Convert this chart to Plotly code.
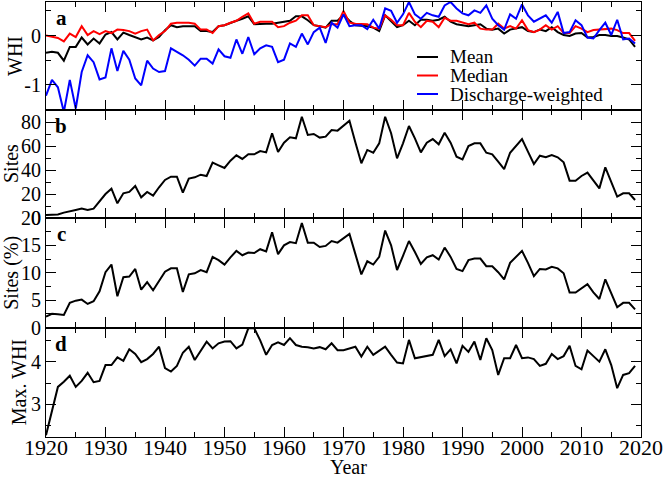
import plotly.graph_objects as go
from plotly.subplots import make_subplots

years = list(range(1920, 2020))

mean_whi = [
    -0.35, -0.33, -0.35, -0.51, -0.23, -0.23, -0.04, -0.18, -0.06, -0.16,
    0.02, 0.07, -0.08, 0.06, 0.01, -0.03, -0.08, -0.04, -0.10, -0.03,
    0.11, 0.21, 0.17, 0.19, 0.19, 0.19, 0.09, 0.09, 0.07, 0.19,
    0.21, 0.26, 0.30, 0.34, 0.39, 0.23, 0.24, 0.24, 0.24, 0.26,
    0.28, 0.30, 0.39, 0.39, 0.31, 0.21, 0.19, 0.16, 0.30, 0.30,
    0.42, 0.30, 0.21, 0.20, 0.19, 0.16, 0.09, 0.41, 0.30, 0.17,
    0.21, 0.30, 0.21, 0.32, 0.32, 0.30, 0.32, 0.38, 0.28, 0.23,
    0.21, 0.19, 0.21, 0.23, 0.14, 0.12, 0.14, 0.04, 0.12, 0.14,
    0.17, 0.09, 0.07, 0.12, 0.09, 0.17, 0.07, 0.01, -0.01, 0.04,
    0.05, -0.04, -0.03, 0.01, 0.01, -0.01, -0.01, -0.04, -0.08, -0.23,
]

median_whi = [
    0.00, -0.03, -0.05, -0.12, 0.04, -0.03, 0.19, 0.01, 0.09, 0.03,
    0.09, 0.05, 0.12, 0.11, 0.09, 0.04, 0.09, 0.12, -0.10, 0.01,
    0.09, 0.24, 0.26, 0.26, 0.26, 0.24, 0.12, 0.12, 0.05, 0.19,
    0.21, 0.26, 0.30, 0.38, 0.45, 0.24, 0.28, 0.28, 0.28, 0.17,
    0.19, 0.26, 0.30, 0.41, 0.41, 0.21, 0.19, 0.17, 0.23, 0.23,
    0.50, 0.26, 0.24, 0.24, 0.23, 0.16, 0.14, 0.41, 0.32, 0.21,
    0.21, 0.46, 0.28, 0.17, 0.30, 0.28, 0.17, 0.36, 0.30, 0.30,
    0.26, 0.23, 0.26, 0.14, 0.12, 0.12, 0.24, 0.14, 0.19, 0.14,
    0.31, 0.11, 0.07, 0.12, 0.21, 0.12, 0.19, 0.05, 0.05, 0.19,
    0.14, 0.07, 0.11, 0.12, 0.14, 0.14, 0.11, 0.05, 0.05, -0.11,
]

discharge_whi = [
    -1.22, -0.90, -1.05, -1.55, -0.90, -1.48, -0.74, -0.40, -0.54, -0.89,
    -0.85, -0.26, -0.72, -0.31, -0.49, -0.87, -1.01, -0.51, -0.67, -0.74,
    -0.72, -0.26, -0.33, -0.40, -0.49, -0.61, -0.47, -0.47, -0.57, -0.28,
    -0.42, -0.45, -0.08, -0.37, -0.03, -0.38, -0.26, -0.20, -0.23, -0.54,
    -0.49, -0.16, -0.23, 0.04, -0.18, 0.07, 0.16, -0.15, 0.26, 0.16,
    0.43, 0.19, 0.21, 0.21, 0.13, 0.32, 0.14, 0.55, 0.50, 0.26,
    0.43, 0.68, 0.43, 0.34, 0.46, 0.41, 0.38, 0.61, 0.68, 0.55,
    0.45, 0.41, 0.51, 0.46, 0.61, 0.34, 0.21, 0.12, 0.43, 0.34,
    0.63, 0.41, 0.28, 0.34, 0.41, 0.26, 0.48, 0.05, 0.07, 0.31,
    0.21, -0.04, -0.06, 0.11, 0.26, 0.01, 0.32, -0.08, -0.06, -0.16,
]

sites = [
    2.5, 2.5, 3, 4.5, 5.3, 6.7, 7.8, 6.7, 7.8, 14,
    20, 24.4, 12.2, 20.6, 21.7, 26.7, 17.2, 21.7, 18.6, 25.6,
    31.7, 34.4, 34.4, 21.1, 32.8, 33.9, 36.1, 35, 46.1, 43.9,
    41.7, 47.8, 52.2, 49.2, 53.1, 53.1, 55.8, 54.7, 70.6, 55,
    62.8, 67.2, 66.4, 84.4, 69.2, 70, 67, 67.8, 73.3, 72.8,
    76.7, 81.1, 63, 45.6, 56.7, 54.4, 62.2, 84.4, 70.6, 49.7,
    62.2, 76.7, 66.4, 54.7, 62.8, 65.8, 61.4, 71.1, 62.8, 51.1,
    48.9, 60, 62.2, 62.2, 54.4, 53.1, 46.9, 40.8, 54.4, 60.3,
    65.8, 55.3, 45, 51.9, 50.6, 52.5, 50.6, 46.4, 31.1, 31.1,
    35, 37.8, 30.8, 24.7, 42.2, 30.3, 17.8, 20.6, 20.6, 15,
]

sites_pct = [
    2.0, 2.5, 2.4, 2.3, 4.5, 4.9, 5.1, 4.3, 4.8, 6.6,
    10.1, 11.5, 5.7, 9.2, 9.3, 10.7, 6.9, 8.3, 6.8, 8.6,
    10.2, 10.8, 10.8, 6.5, 9.7, 9.9, 10.5, 10.1, 12.9, 12.3,
    11.5, 12.8, 14.0, 13.2, 13.7, 13.6, 14.3, 13.9, 17.4, 13.4,
    15.0, 15.6, 15.4, 19.1, 15.5, 15.5, 14.7, 14.9, 15.8, 15.5,
    16.3, 17.1, 13.4, 9.7, 12.1, 11.5, 12.9, 17.7, 15.0, 10.5,
    13.1, 15.8, 13.8, 11.6, 12.8, 13.2, 12.4, 14.6, 12.9, 10.7,
    10.3, 12.3, 12.6, 12.6, 11.2, 11.2, 10.1, 8.8, 11.8, 12.9,
    14.0, 11.8, 9.4, 10.7, 10.6, 11.1, 10.8, 9.9, 6.4, 6.4,
    7.2, 7.9, 6.4, 5.2, 8.8, 6.3, 3.7, 4.5, 4.5, 3.3,
]

max_whi = [
    2.28, 2.85, 3.41, 3.53, 3.67, 3.41, 3.55, 3.74, 3.52, 3.55,
    3.92, 3.92, 4.10, 4.02, 4.29, 4.18, 3.99, 4.06, 4.18, 4.35,
    3.85, 3.77, 3.90, 4.21, 4.35, 4.04, 4.27, 4.47, 4.31, 4.43,
    4.47, 4.48, 4.31, 4.40, 4.78, 4.78, 4.50, 4.16, 4.39, 4.45,
    4.39, 4.55, 4.39, 4.35, 4.34, 4.31, 4.34, 4.29, 4.43, 4.27,
    4.27, 4.31, 4.35, 4.12, 4.35, 4.16, 4.26, 4.35, 4.16, 3.98,
    3.96, 4.51, 4.08, 4.11, 4.14, 4.16, 4.51, 4.13, 4.29, 3.96,
    4.37, 4.23, 4.47, 4.04, 4.55, 4.27, 3.69, 4.08, 4.08, 4.39,
    4.08, 4.10, 4.06, 3.90, 3.95, 4.18, 4.06, 4.13, 4.37, 3.90,
    3.82, 4.26, 4.13, 4.00, 4.29, 3.92, 3.38, 3.69, 3.73, 3.90,
]

series_names = ["Mean", "Median", "Discharge-weighted"]
series_colors = ["#000000", "#ff0000", "#0000ff"]
panel_letters = ["a", "b", "c", "d"]
y_titles = ["WHI", "Sites", "Sites (%)", "Max. WHI"]

FONT = "Liberation Serif, Times New Roman, serif"
W, H = 664, 479
L, R, T, B = 46, 23, 2, 42
PW, PH = W - L - R, H - T - B


def px_x(x):
    return (x - L) / PW


def px_y(y):
    return (H - B - y) / PH


fig = make_subplots(rows=4, cols=1, shared_xaxes=True, vertical_spacing=0)

for name, vals, col in zip(series_names, [mean_whi, median_whi, discharge_whi], series_colors):
    fig.add_trace(go.Scatter(x=years, y=vals, mode="lines", name=name,
                             line=dict(color=col, width=2), showlegend=False), row=1, col=1)
fig.add_trace(go.Scatter(x=years, y=sites, mode="lines", line=dict(color="black", width=2),
                         showlegend=False), row=2, col=1)
fig.add_trace(go.Scatter(x=years, y=sites_pct, mode="lines", line=dict(color="black", width=2),
                         showlegend=False), row=3, col=1)
fig.add_trace(go.Scatter(x=years, y=max_whi, mode="lines", line=dict(color="black", width=2),
                         showlegend=False), row=4, col=1)

bounds = [2, 110, 218, 327.5, 437]
domains = [[px_y(bounds[i + 1]), px_y(bounds[i])] for i in range(4)]
domains[0][1] = 1.0
domains[3][0] = 0.0

axis_common = dict(showline=True, linecolor="black", linewidth=1.2, mirror="allticks",
                   ticks="inside", tickcolor="black", tickwidth=1.2, ticklen=10,
                   showgrid=False, zeroline=False, automargin=False,
                   tickfont=dict(family=FONT, size=20, color="black"))

for i in range(4):
    fig.update_xaxes(row=i + 1, col=1, range=[1920, 2020], tick0=1920, dtick=10,
                     minor=dict(dtick=5, tick0=1920, ticklen=5, ticks="inside",
                                tickcolor="black", tickwidth=1.2, showgrid=False),
                     showticklabels=(i == 3), **axis_common)
    fig.layout["yaxis" + ("" if i == 0 else str(i + 1))].domain = domains[i]

fig.update_xaxes(row=4, col=1, tickfont=dict(family=FONT, size=22, color="black"),
                 ticklabelstandoff=-10)

minor_y = dict(ticklen=5, ticks="inside", tickcolor="black", tickwidth=1.2, showgrid=False)
fig.update_yaxes(row=1, col=1, range=[-1.51, 0.68], tickmode="array", tickvals=[-1, 0],
                 ticktext=["-1", "0"], minor=dict(tickmode="array", tickvals=[-1.5, -0.5, 0.5], **minor_y),
                 **axis_common)
fig.update_yaxes(row=2, col=1, range=[0, 90], tick0=0, dtick=20,
                 minor=dict(dtick=10, tick0=0, **minor_y), **axis_common)
fig.update_yaxes(row=3, col=1, range=[0, 20], tick0=0, dtick=5,
                 minor=dict(dtick=2.5, tick0=0, **minor_y), **axis_common)
fig.update_yaxes(row=4, col=1, range=[2.237, 4.80], tick0=3, dtick=1,
                 minor=dict(dtick=0.5, tick0=3, **minor_y), **axis_common)

annotations = []
for i, letter in enumerate(panel_letters):
    annotations.append(dict(text="<b>%s</b>" % letter, xref="paper", yref="paper",
                            x=px_x(61), y=px_y(bounds[i] + 16), xanchor="center", yanchor="middle",
                            showarrow=False, font=dict(family=FONT, size=21, color="black")))
title_x = [15, 11, 12, 19]
for i, t in enumerate(y_titles):
    annotations.append(dict(text=t, xref="paper", yref="paper", textangle=-90,
                            x=px_x(title_x[i]), y=(domains[i][0] + domains[i][1]) / 2,
                            xanchor="center", yanchor="middle", showarrow=False,
                            font=dict(family=FONT, size=20, color="black")))
annotations.append(dict(text="Year", xref="paper", yref="paper", x=px_x(348), y=px_y(467),
                        xanchor="center", yanchor="middle", showarrow=False, borderpad=0,
                        font=dict(family=FONT, size=20, color="black")))

shapes = []
legend_rows = [57, 75.5, 94]
for name, col, yy in zip(series_names, series_colors, legend_rows):
    shapes.append(dict(type="line", xref="paper", yref="paper", x0=px_x(417), x1=px_x(438),
                       y0=px_y(yy), y1=px_y(yy), line=dict(color=col, width=2)))
    annotations.append(dict(text=name, xref="paper", yref="paper", x=px_x(448), y=px_y(yy),
                            xanchor="left", yanchor="middle", showarrow=False,
                            font=dict(family=FONT, size=19, color="black")))

fig.update_layout(width=W, height=H, autosize=False,
                  margin=dict(l=L, r=R, t=T, b=B, pad=0, autoexpand=False),
                  paper_bgcolor="white", plot_bgcolor="white",
                  showlegend=False, annotations=annotations, shapes=shapes,
                  font=dict(family=FONT, size=20, color="black"))

post = ("document.body.style.margin='0';document.body.style.padding='0';"
        "var d=document.getElementById('{plot_id}');"
        "d.style.position='absolute';d.style.left='0px';d.style.top='0px';")
fig.write_html("out.html", config={"displayModeBar": False}, post_script=post)
